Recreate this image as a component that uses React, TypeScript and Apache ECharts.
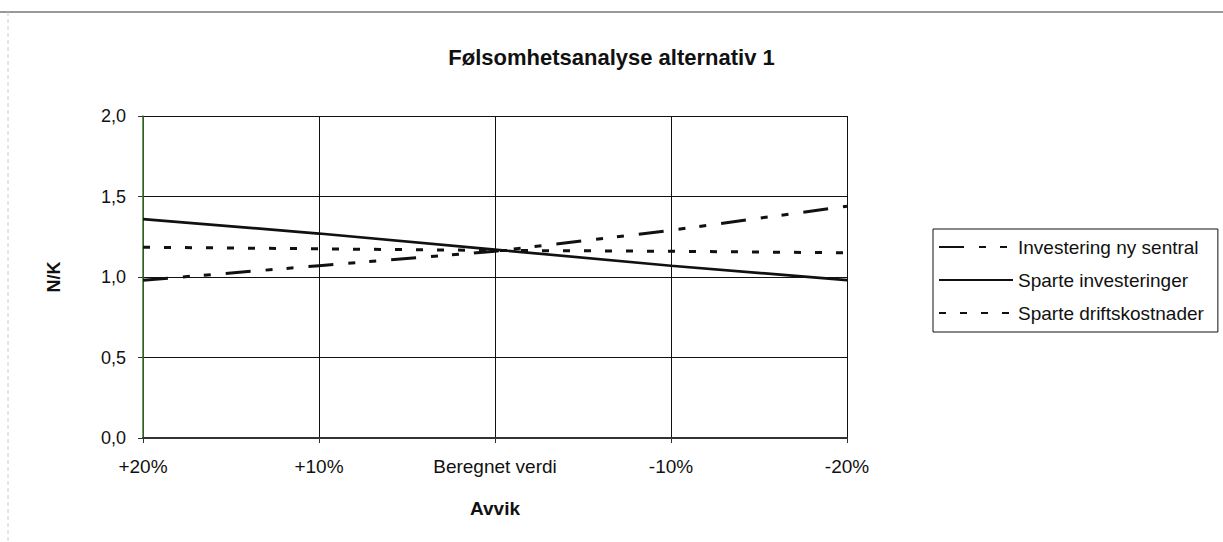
import React, { useEffect, useRef } from "react";
import * as echarts from "echarts";

const categories = ["+20%", "+10%", "Beregnet verdi", "-10%", "-20%"];
const investeringNySentral = [0.98, 1.07, 1.16, 1.29, 1.44];
const sparteInvesteringer = [1.36, 1.27, 1.17, 1.07, 0.98];
const sparteDriftskostnader = [1.185, 1.175, 1.165, 1.16, 1.15];
const yTicks = [0, 0.5, 1.0, 1.5, 2.0];

const FONT = "'Liberation Sans', Arial, sans-serif";

export default function App() {
  const ref = useRef<HTMLDivElement>(null);
  useEffect(() => {
    if (!ref.current) return;
    const chart = echarts.init(ref.current, undefined, { renderer: "svg" });
    chart.setOption({
      animation: false,
      backgroundColor: "#ffffff",
      textStyle: { fontFamily: FONT, color: "#111" },
      title: {
        text: "Følsomhetsanalyse alternativ 1",
        left: "center",
        top: 41,
        textStyle: { fontFamily: FONT, fontSize: 22, fontWeight: "bold", color: "#111" },
      },
      graphic: [
        { type: "line", shape: { x1: 0, y1: 12, x2: 1223, y2: 12 }, style: { stroke: "#777", lineWidth: 1.5 } },
        { type: "line", shape: { x1: 8, y1: 12, x2: 8, y2: 542 }, style: { stroke: "#ccc", lineWidth: 1, lineDash: [4, 3] } },
      ],
      grid: { left: 143, right: 376, top: 116, bottom: 104, containLabel: false },
      legend: {
        orient: "vertical",
        left: 933,
        top: 229,
        padding: [8, 14, 9, 5],
        itemWidth: 74,
        itemHeight: 14,
        itemGap: 13,
        borderColor: "#111",
        borderWidth: 1,
        itemStyle: { opacity: 0 },
        textStyle: { fontFamily: FONT, fontSize: 19, lineHeight: 20, color: "#111" },
        data: ["Investering ny sentral", "Sparte investeringer", "Sparte driftskostnader"],
      },
      xAxis: {
        type: "category",
        data: categories,
        boundaryGap: false,
        name: "Avvik",
        nameLocation: "middle",
        nameGap: 61,
        nameTextStyle: { fontFamily: FONT, fontSize: 19, fontWeight: "bold", color: "#111" },
        axisLine: { lineStyle: { color: "#333", width: 2 } },
        axisTick: { show: true, length: 5, inside: false, lineStyle: { color: "#333" } },
        axisLabel: { fontFamily: FONT, fontSize: 19, color: "#111", margin: 19 },
        splitLine: { show: true, lineStyle: { color: "#111", width: 1 } },
      },
      yAxis: {
        type: "value",
        min: 0,
        max: 2,
        interval: 0.5,
        name: "N/K",
        nameLocation: "middle",
        nameGap: 80,
        nameRotate: 90,
        nameTextStyle: { fontFamily: FONT, fontSize: 18, fontWeight: "bold", color: "#111" },
        axisLine: { show: true, lineStyle: { color: "#3d7a2a", width: 1.5 } },
        axisTick: { show: true, length: 5, inside: false, lineStyle: { color: "#333" } },
        axisLabel: {
          fontFamily: FONT,
          fontSize: 18,
          color: "#111",
          margin: 17,
          formatter: (v: number) => (yTicks.includes(v) ? v.toFixed(1).replace(".", ",") : ""),
        },
        splitLine: { show: true, lineStyle: { color: "#111", width: 1 } },
      },
      series: [
        {
          name: "Investering ny sentral",
          type: "line",
          data: investeringNySentral,
          symbol: "none",
          lineStyle: { color: "#111", width: 3, type: [25, 15, 7, 14, 7, 15] },
          itemStyle: { color: "#111" },
        },
        {
          name: "Sparte investeringer",
          type: "line",
          data: sparteInvesteringer,
          symbol: "none",
          lineStyle: { color: "#111", width: 2.7, type: "solid" },
          itemStyle: { color: "#111" },
        },
        {
          name: "Sparte driftskostnader",
          type: "line",
          data: sparteDriftskostnader,
          symbol: "none",
          lineStyle: { color: "#111", width: 3, type: [7, 14] },
          itemStyle: { color: "#111" },
        },
      ],
    });
    return () => chart.dispose();
  }, []);
  return <div ref={ref} style={{ width: 1223, height: 542, position: "absolute", left: 0, top: 0 }} />;
}
